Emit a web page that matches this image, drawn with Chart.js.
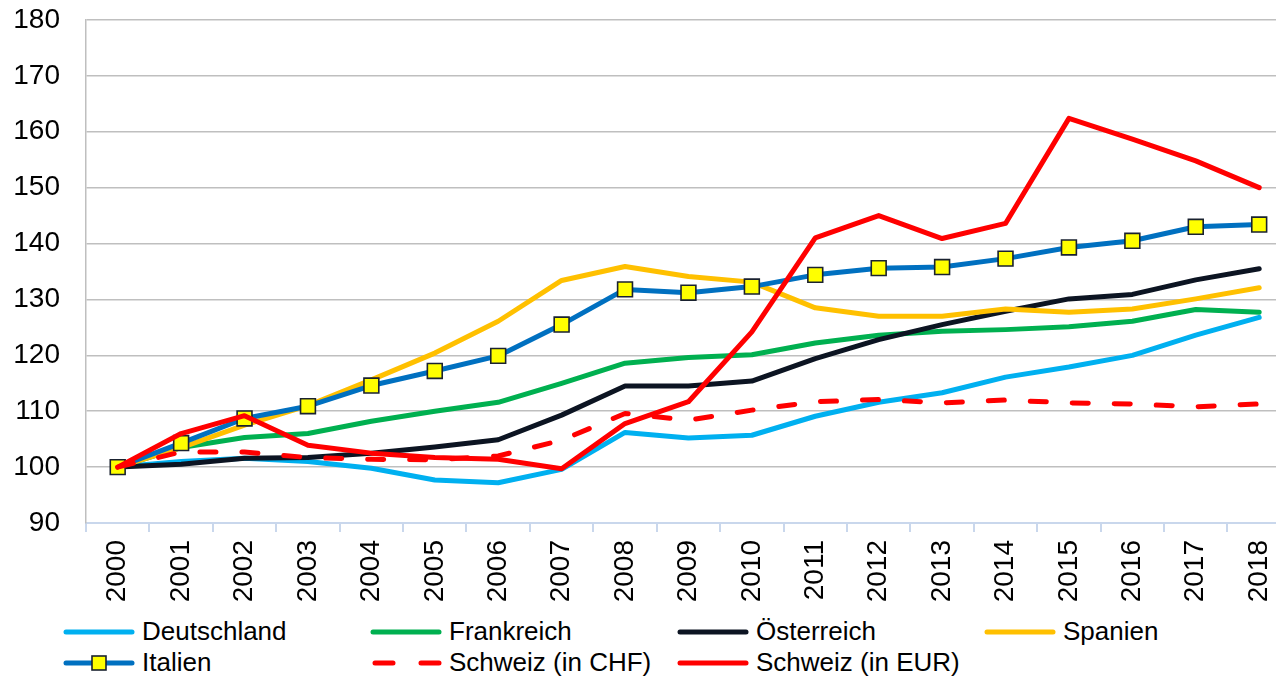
<!DOCTYPE html>
<html>
<head>
<meta charset="utf-8">
<script src="https://cdn.jsdelivr.net/npm/chart.js@4"></script>
<style>
html, body { margin: 0; overflow: hidden; background: #fff; font-family: "Liberation Sans", Arial, sans-serif; }
#wrap { position: relative; width: 1276px; height: 678px; overflow: hidden; }
#cv { position: absolute; left: 0; top: 0; }
#legend { position: absolute; left: 63px; top: 616px; display: grid; grid-template-columns: repeat(4, 307px); grid-auto-rows: 31px; font-size: 26px; color: #000; }
.item { display: flex; align-items: center; white-space: nowrap; }
.item svg { margin-right: 7px; }
</style>
</head>
<body>
<div id="wrap">
<!-- wider than the page: the original plot runs past the right edge -->
<canvas id="cv" width="1303" height="610"></canvas>
<div id="legend"></div>
</div>
<script>
const years = ["2000", "2001", "2002", "2003", "2004", "2005", "2006", "2007", "2008", "2009",
               "2010", "2011", "2012", "2013", "2014", "2015", "2016", "2017", "2018"];

const deutschland = [100, 101, 101.6, 101, 99.8, 97.7, 97.2, 99.6, 106.2, 105.2, 105.7, 109.1, 111.6, 113.3, 116.1, 117.9, 120, 123.6, 126.8];
const frankreich  = [100, 103.5, 105.3, 106, 108.2, 110, 111.6, 115, 118.6, 119.6, 120.1, 122.2, 123.6, 124.3, 124.6, 125.1, 126.1, 128.2, 127.7];
const oesterreich = [100, 100.5, 101.6, 101.7, 102.5, 103.6, 104.9, 109.3, 114.5, 114.5, 115.4, 119.4, 122.8, 125.5, 127.9, 130.1, 130.9, 133.5, 135.5];
const spanien     = [100, 103.5, 107.5, 111, 115.6, 120.4, 126.1, 133.4, 135.9, 134.1, 133.1, 128.5, 127, 127, 128.3, 127.7, 128.3, 130.1, 132.1];
const italien     = [100, 104.3, 108.7, 110.9, 114.6, 117.2, 119.9, 125.5, 131.8, 131.2, 132.3, 134.4, 135.6, 135.8, 137.3, 139.3, 140.5, 143, 143.4];
const schweizChf  = [100, 102.7, 102.7, 101.7, 101.4, 101.3, 102, 104.8, 109.6, 108.4, 110.2, 111.7, 112.1, 111.5, 112, 111.5, 111.3, 110.8, 111.3];
const schweizEur  = [100, 106, 109.2, 103.9, 102.5, 101.7, 101.4, 99.7, 107.8, 111.7, 124.2, 141, 145, 140.9, 143.6, 162.4, 158.7, 154.8, 150];

const font = { family: '"Liberation Sans", Arial, sans-serif', size: 28 };

function series(label, data, color, extra) {
    return Object.assign({
        label: label,
        data: data,
        borderColor: color,
        backgroundColor: color,
        borderWidth: 5,
        pointRadius: 0,
        tension: 0,
        fill: false,
        borderCapStyle: 'round',
        borderJoinStyle: 'round'
    }, extra || {});
}

const datasets = [
    series("Deutschland", deutschland, "#00B0F0"),
    series("Frankreich", frankreich, "#00B050"),
    series("Österreich", oesterreich, "#0C1422"),
    series("Spanien", spanien, "#FFC000"),
    series("Italien", italien, "#0070C0", {
        pointStyle: 'rect', pointRadius: 10.5, pointBackgroundColor: "#FFFF00",
        pointBorderColor: "#1A2230", pointBorderWidth: 1.6
    }),
    series("Schweiz (in CHF)", schweizChf, "#FF0000", { borderDash: [16, 26] }),
    series("Schweiz (in EUR)", schweizEur, "#FF0000")
];
// later series are painted on top, like in the original
datasets.forEach((d, i) => { d.order = datasets.length - i; });

// fix the plot box: no extra room for overhanging labels
function noPad(scale) {
    scale.paddingLeft = 0;
    scale.paddingRight = 0;
    scale.paddingTop = 0;
    scale.paddingBottom = 0;
}

const chart = new Chart(document.getElementById("cv"), {
    type: "line",
    data: { labels: years, datasets: datasets },
    options: {
        responsive: false,
        animation: false,
        devicePixelRatio: 1,
        layout: { padding: { left: 0, top: 20, right: 0, bottom: 0 } },
        plugins: { legend: { display: false }, tooltip: { enabled: false } },
        scales: {
            x: {
                offset: true,
                grid: { offset: true, drawOnChartArea: false, drawTicks: true, tickLength: 9, color: "#C9D7EC", lineWidth: 2 },
                border: { color: "#C9D7EC", width: 2 },
                ticks: { minRotation: 90, maxRotation: 90, autoSkip: false, color: "#000", font: font, padding: 8 },
                afterFit: scale => { noPad(scale); scale.height = 87; }
            },
            y: {
                min: 90, max: 180,
                ticks: { stepSize: 10, color: "#000", font: font, padding: 26 },
                grid: { color: "#BFBFBF", lineWidth: 1.5, drawTicks: false },
                border: { color: "#BFBFBF", width: 1.5 },
                afterFit: scale => { noPad(scale); scale.width = 86; }
            }
        }
    }
});

// legend laid out in fixed columns, built from the chart's datasets
const legend = document.getElementById("legend");
chart.data.datasets.forEach(ds => {
    const item = document.createElement("div");
    item.className = "item";
    let svg = '<svg width="72" height="16" viewBox="0 0 72 16">';
    const dash = ds.borderDash ? ' stroke-dasharray="18 28" stroke-dashoffset="-2"' : '';
    svg += '<line x1="3" y1="8" x2="69" y2="8" stroke="' + ds.borderColor + '" stroke-width="5" stroke-linecap="round"' + dash + '/>';
    if (ds.pointStyle === 'rect') {
        svg += '<rect x="29" y="1" width="14" height="14" fill="' + ds.pointBackgroundColor + '" stroke="' + ds.pointBorderColor + '" stroke-width="1.6"/>';
    }
    svg += '</svg>';
    item.innerHTML = svg + '<span>' + ds.label + '</span>';
    legend.appendChild(item);
});
</script>
</body>
</html>
